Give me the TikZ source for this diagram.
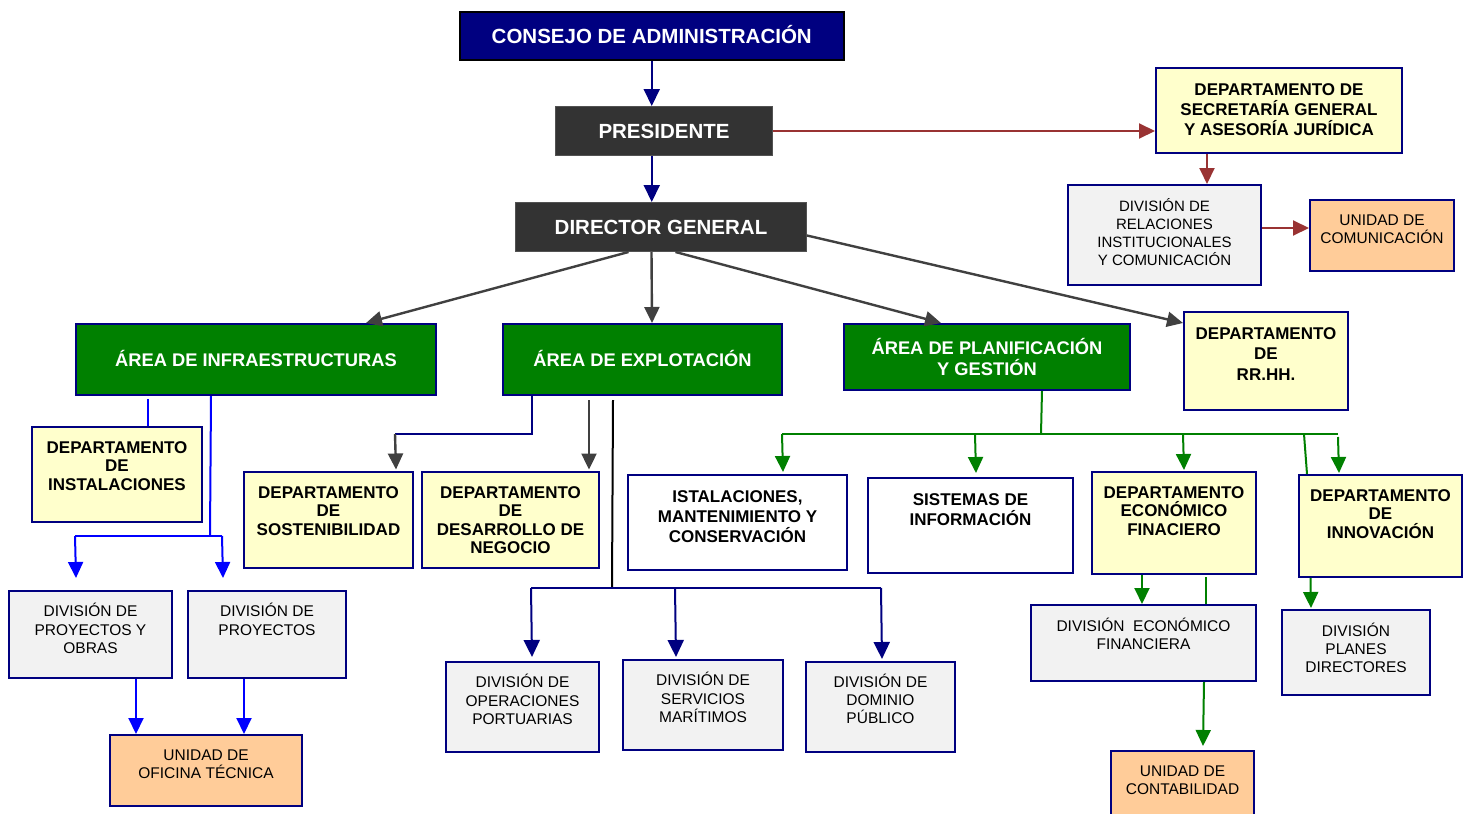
\documentclass[tikz,border=0pt]{standalone}
\usepackage{fontspec}
\setmainfont{Liberation Sans}
\usetikzlibrary{arrows.meta}
\definecolor{navyb}{RGB}{0,0,128}
\definecolor{blueb}{RGB}{0,0,255}
\definecolor{grayc}{RGB}{64,64,64}
\definecolor{greenc}{RGB}{0,128,0}
\definecolor{redc}{RGB}{153,51,51}
\definecolor{yelf}{RGB}{255,255,204}
\definecolor{gryf}{RGB}{242,242,242}
\definecolor{orgf}{RGB}{255,204,153}
\definecolor{darkf}{RGB}{51,51,51}
\newcommand\bfs[2]{\fontsize{#1}{#2}\selectfont\bfseries}
\newcommand\rgs[2]{\fontsize{#1}{#2}\selectfont}
% style, font, name, x1, y1, x2, y2, first baseline y, text
\newcommand\orgbox[9]{\node[#1,anchor=north west,inner sep=0pt] (#3) at (#4,#5)
 {\parbox[t][\dimexpr #7pt-#5pt\relax][t]{\dimexpr #6pt-#4pt\relax}{#2\centering
 \vspace*{\dimexpr #8pt-#5pt-\baselineskip\relax}\rule{0pt}{\baselineskip}#9\par}};}
\tikzset{
 bordered/.style={draw=navyb, line width=2pt},
 yel/.style={bordered, fill=yelf},
 gry/.style={bordered, fill=gryf},
 org/.style={bordered, fill=orgf},
 wht/.style={bordered, fill=white},
 grn/.style={bordered, fill=greenc, text=white, inner sep=0pt, anchor=north west},
 dark/.style={fill=darkf, draw=darkf!85!white, line width=1pt, text=white, inner sep=0pt, anchor=north west},
 consbox/.style={fill=navyb, draw=black, line width=1.5pt, text=white, inner sep=0pt, anchor=north west},
 conn/.style={line width=2pt},
 arr/.style={-{Triangle[length=16pt,width=15pt]}},
 navyarr/.style={conn, draw=navyb, -{Triangle[length=17pt,width=16pt]}},
 navyl/.style={conn, draw=navyb},
 redarr/.style={conn, arr, draw=redc},
 grayarr/.style={conn, arr, draw=grayc, line width=2.4pt},
 bluearr/.style={conn, arr, draw=blueb},
 bluel/.style={conn, draw=blueb},
 greenarr/.style={conn, arr, draw=greenc},
 greenl/.style={conn, draw=greenc},
 blackl/.style={conn, draw=black},
}
\begin{document}
\begin{tikzpicture}[x=1pt,y=-1pt]
\useasboundingbox (0,0) rectangle (1468,814);
\fill[white] (0,0) rectangle (1468,814);

% top
\node[consbox, minimum width=384pt, minimum height=48pt, font=\bfs{20.5}{24}, text height=14.7pt, text depth=0pt] (cons) at (459,11) {CONSEJO DE ADMINISTRACIÓN};
\node[dark, minimum width=217pt, minimum height=49pt, font=\bfs{20.5}{24}, text height=14.7pt, text depth=0pt] (pres) at (555,106) {PRESIDENTE};
\node[dark, minimum width=291pt, minimum height=49pt, font=\bfs{20.5}{24}, text height=14.7pt, text depth=0pt] (dg) at (515,202) {DIRECTOR GENERAL};

% areas
\node[grn, minimum width=360pt, minimum height=71pt, font=\bfs{18.3}{21}, text height=13.1pt, text depth=0pt] (infra) at (75,323) {ÁREA DE INFRAESTRUCTURAS};
\node[grn, minimum width=279pt, minimum height=71pt, font=\bfs{18.3}{21}, text height=13.1pt, text depth=0pt] (expl) at (502,323) {ÁREA DE EXPLOTACIÓN};
\node[grn, minimum width=286pt, minimum height=66pt, font=\bfs{18.3}{21}, align=center] (plan) at (843,323) {ÁREA DE PLANIFICACIÓN\\Y GESTIÓN};

% right upper
\orgbox{yel}{\bfs{17}{20}}{sec}{1155}{67}{1401}{152}{94}{DEPARTAMENTO DE\\SECRETARÍA GENERAL\\Y ASESORÍA JURÍDICA}
\orgbox{gry}{\rgs{15}{18}}{rel}{1067}{184}{1260}{284}{210.5}{DIVISIÓN DE\\RELACIONES\\INSTITUCIONALES\\Y COMUNICACIÓN}
\orgbox{org}{\rgs{15.5}{18}}{com}{1309}{199}{1453}{270}{224.5}{UNIDAD DE\\COMUNICACIÓN}
\orgbox{yel}{\bfs{17}{20.5}}{rrhh}{1183}{311}{1347}{409}{338}{DEPARTAMENTO\\DE\\RR.HH.}

% infraestructuras
\orgbox{yel}{\bfs{17}{18.5}}{inst}{31}{426}{201}{521}{452}{DEPARTAMENTO\\DE\\INSTALACIONES}
\orgbox{gry}{\rgs{15.5}{18.5}}{dpo}{8}{590}{171}{677}{615.5}{DIVISIÓN DE\\PROYECTOS Y\\OBRAS}
\orgbox{gry}{\rgs{15.5}{18.5}}{dp}{187}{590}{345}{677}{615.5}{DIVISIÓN DE\\PROYECTOS}
\orgbox{org}{\rgs{15.5}{18}}{uot}{109}{734}{301}{805}{759.5}{UNIDAD DE\\OFICINA TÉCNICA}

% explotacion
\orgbox{yel}{\bfs{17}{18.5}}{sost}{243}{471}{412}{567}{497}{DEPARTAMENTO\\DE\\SOSTENIBILIDAD}
\orgbox{yel}{\bfs{17}{18.5}}{desn}{421}{471}{598}{567}{497}{DEPARTAMENTO\\DE\\DESARROLLO DE\\NEGOCIO}
\orgbox{gry}{\rgs{15.5}{18.5}}{dop}{445}{661}{598}{751}{686.5}{DIVISIÓN DE\\OPERACIONES\\PORTUARIAS}
\orgbox{gry}{\rgs{15.5}{18.5}}{dsm}{622}{659}{782}{749}{684.5}{DIVISIÓN DE\\SERVICIOS\\MARÍTIMOS}
\orgbox{gry}{\rgs{15.5}{18}}{ddp}{805}{661}{954}{751}{686.5}{DIVISIÓN DE\\DOMINIO\\PÚBLICO}

% planificacion
\orgbox{wht}{\bfs{17}{20}}{ist}{627}{474}{846}{569}{501}{ISTALACIONES,\\MANTENIMIENTO Y\\CONSERVACIÓN}
\orgbox{wht}{\bfs{17}{20}}{sis}{867}{477}{1072}{572}{504}{SISTEMAS DE\\INFORMACIÓN}
\orgbox{yel}{\bfs{17}{18.5}}{eco}{1091}{471}{1255}{573}{497}{DEPARTAMENTO\\ECONÓMICO\\FINACIERO}
\orgbox{yel}{\bfs{17}{18.5}}{inn}{1298}{474}{1461}{576}{500}{DEPARTAMENTO\\DE\\INNOVACIÓN}
\orgbox{gry}{\rgs{15.5}{18}}{def}{1030}{604}{1255}{680}{630.5}{DIVISIÓN\ \ ECONÓMICO\\FINANCIERA}
\orgbox{gry}{\rgs{15.5}{18}}{dpd}{1281}{609}{1429}{694}{635.5}{DIVISIÓN\\PLANES\\DIRECTORES}
\orgbox{org}{\rgs{15.5}{18}}{uc}{1110}{750}{1253}{830}{775.5}{UNIDAD DE\\CONTABILIDAD}

% coordinates for junctions
\coordinate (ij) at (210,536);
\coordinate (ijl) at (75,536);
\coordinate (ijr) at (222,536);
\coordinate (ej) at (395,434);
\coordinate (ek) at (612,588);
\coordinate (el) at (531,588);
\coordinate (em) at (675,588);
\coordinate (er) at (881,588);
\coordinate (pj) at (1041,434);
\coordinate (pl) at (782,434);
\coordinate (p2) at (975,434);
\coordinate (p3) at (1183,434);
\coordinate (p4) at (1304,434);
\coordinate (pr) at (1338,434);

% top connectors
\draw[navyarr] (cons.south) -- (cons.south |- pres.north);
\draw[navyarr] (cons.south |- pres.south) -- (cons.south |- dg.north);
\draw[redarr] (pres.east) -- (pres.east -| sec.west);
\draw[redarr] ([xshift=-72pt]sec.south) -- ([xshift=42.5pt]rel.north);
\draw[redarr] ([yshift=7pt]rel.east) -- ([yshift=7.5pt]com.west);

% director connectors
\draw[grayarr] ([xshift=-32.5pt]dg.south) -- ([xshift=110pt]infra.north);
\draw[grayarr] ([xshift=-9.5pt]dg.south) -- ([xshift=9.5pt]expl.north);
\draw[grayarr] ([xshift=14.5pt]dg.south) -- ([xshift=-46pt]plan.north);
\draw[grayarr] ([yshift=-8.5pt]dg.east) -- ([yshift=-12pt]rrhh.north west);

% infraestructuras connectors
\draw[bluel] ([xshift=-108pt,yshift=-3pt]infra.south) -- ([xshift=31pt]inst.north);
\draw[bluel] ([xshift=-45pt]infra.south) -- (ij);
\draw[bluel] (ijl) -- (ijr);
\draw[bluearr] (ijl) -- ([xshift=-14.5pt,yshift=12pt]dpo.north);
\draw[bluearr] (ijr) -- ([xshift=-44pt,yshift=12pt]dp.north);
\draw[bluearr] ([xshift=45.5pt]dpo.south) -- ([xshift=-70pt]uot.north);
\draw[bluearr] ([xshift=-23pt]dp.south) -- ([xshift=38pt]uot.north);

% explotacion connectors
\draw[navyl] ([xshift=-110.5pt]expl.south) |- (ej);
\draw[grayarr] (ej) -- ([xshift=67.5pt,yshift=1.5pt]sost.north);
\draw[grayarr] ([xshift=-53.5pt,yshift=-4pt]expl.south) -- ([xshift=78.5pt,yshift=1.5pt]desn.north);
\draw[blackl] ([xshift=-29.5pt,yshift=-4pt]expl.south) -- (ek);
\draw[navyl] (el) -- (er);
\draw[navyarr] (el) -- ([xshift=9.5pt,yshift=4pt]dop.north);
\draw[navyarr] (em) -- ([xshift=-27pt,yshift=2pt]dsm.north);
\draw[navyarr] (er) -- ([xshift=1.5pt,yshift=2pt]ddp.north);

% planificacion connectors
\draw[greenl] ([xshift=55pt]plan.south) -- (pj);
\draw[greenl] (pl) -- (pr);
\draw[greenarr] (pl) -- ([xshift=45.5pt,yshift=2pt]ist.north);
\draw[greenarr] (p2) -- ([xshift=5.5pt,yshift=4pt]sis.north);
\draw[greenarr] (p3) -- ([xshift=10pt,yshift=1pt]eco.north);
\draw[greenarr] ([yshift=-3pt]pr) -- ([xshift=-41.5pt,yshift=1pt]inn.north);
\draw[greenl] (p4) -- ([xshift=-73.5pt]inn.north);
\draw[greenarr] ([xshift=-32pt]eco.south) -- ([xshift=-1.5pt]def.north);
\draw[greenl] ([xshift=32pt,yshift=-2pt]eco.south) -- ([xshift=62.5pt]def.north);
\draw[greenarr] ([xshift=-70pt]inn.south) -- ([xshift=-45pt,yshift=1pt]dpd.north);
\draw[greenarr] ([xshift=60.5pt]def.south) -- ([xshift=20.5pt,yshift=4pt]uc.north);
\end{tikzpicture}
\end{document}
